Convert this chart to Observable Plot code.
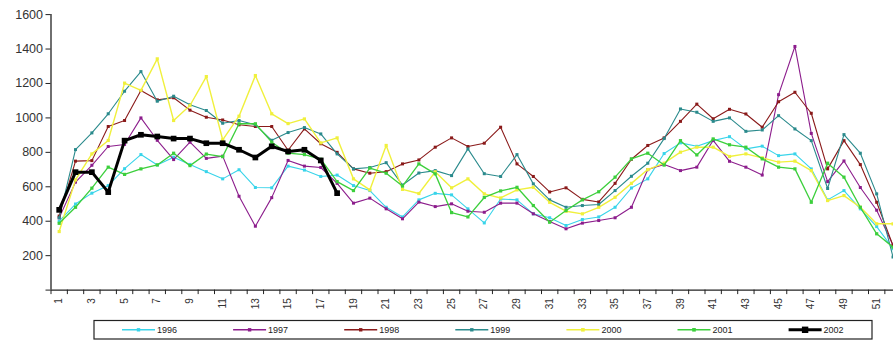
<!DOCTYPE html>
<html>
<head>
<meta charset="utf-8">
<script src="https://cdn.jsdelivr.net/npm/d3@7"></script>
<script src="https://cdn.jsdelivr.net/npm/@observablehq/plot@0.6"></script>
<style>
  html, body { margin: 0; padding: 0; background: #fff; overflow: hidden; }
  #chart svg { display: block; }
</style>
</head>
<body>
<div id="chart"></div>
<script>
// Weekly counts, one list per year (weeks 1–52; 2002 runs to week 18)
const weeks = d3.range(1, 53);
const years = ["1996", "1997", "1998", "1999", "2000", "2001", "2002"];

const v1996 = [400, 500, 563, 607, 705, 787, 727, 772, 730, 688,
  646, 699, 596, 594, 720, 697, 660, 668, 607, 578,
  481, 425, 524, 562, 553, 472, 390, 529, 524, 443,
  420, 375, 410, 425, 481, 593, 646, 793, 855, 835,
  868, 891, 820, 836, 781, 791, 704, 524, 578, 472,
  369, 240];
const v1997 = [420, 627, 725, 834, 846, 1000, 870, 758, 859, 765,
  778, 545, 371, 537, 753, 720, 712, 620, 505, 534,
  472, 414, 511, 485, 501, 458, 452, 505, 505, 443,
  398, 356, 389, 404, 420, 481, 700, 730, 694, 714,
  870, 748, 714, 668, 1135, 1415, 910, 630, 750, 596,
  464, 260];
const v1998 = [430, 749, 752, 950, 985, 1159, 1105, 1117, 1045, 1004,
  988, 960, 950, 950, 812, 936, 850, 800, 704, 679,
  688, 733, 756, 830, 884, 834, 853, 946, 733, 660,
  570, 594, 527, 512, 620, 760, 840, 884, 980, 1080,
  995, 1050, 1023, 946, 1094, 1149, 1027, 704, 868, 729,
  510, 259];
const v1999 = [420, 816, 913, 1024, 1155, 1269, 1097, 1126, 1076, 1043,
  969, 985, 960, 870, 915, 944, 907, 791, 704, 712,
  740, 610, 680, 694, 665, 820, 676, 660, 787, 617,
  524, 481, 491, 497, 578, 661, 737, 880, 1052, 1033,
  980, 1000, 922, 930, 1013, 936, 868, 590, 903, 795,
  559, 192];
const v2000 = [340, 640, 791, 869, 1202, 1160, 1343, 985, 1072, 1240,
  873, 1010, 1246, 1024, 967, 994, 855, 884, 646, 582,
  840, 585, 561, 687, 594, 646, 559, 535, 582, 597,
  510, 458, 443, 481, 539, 620, 700, 737, 801, 830,
  830, 776, 791, 768, 743, 749, 694, 520, 549, 481,
  385, 385];
const v2001 = [388, 481, 592, 714, 672, 704, 727, 795, 723, 790,
  775, 966, 966, 859, 795, 787, 760, 630, 578, 709,
  679, 604, 733, 675, 450, 425, 538, 576, 597, 491,
  394, 462, 524, 571, 656, 762, 795, 726, 868, 785,
  878, 844, 830, 762, 714, 704, 510, 737, 656, 481,
  327, 249];
const v2002 = [466, 685, 685, 569, 868, 902, 892, 880, 880, 853,
  853, 815, 770, 835, 805, 815, 753, 563];

const yTickValues = [0, 200, 400, 600, 800, 1000, 1200, 1400, 1600];
const yTickLabels = ["200", "400", "600", "800", "1000", "1200", "1400", "1600"];
const xTickLabels = d3.range(1, 52, 2);

// Long table built from the per-year lists
const valuesByYear = [v1996, v1997, v1998, v1999, v2000, v2001, v2002];
const rows = years.flatMap((year, i) =>
  valuesByYear[i].map((v, j) => ({year, week: weeks[j], value: v})));

// Series styling
const style = {
  "1996": {color: "#38d4ea", width: 1.1, r: 1.7},
  "1997": {color: "#8c1d8c", width: 1.1, r: 1.7},
  "1998": {color: "#8a1a1a", width: 1.1, r: 1.7},
  "1999": {color: "#2a8a8c", width: 1.1, r: 1.7},
  "2000": {color: "#f0f03c", width: 1.4, r: 1.8},
  "2001": {color: "#3ccf3c", width: 1.3, r: 1.8},
  "2002": {color: "#000000", width: 3.0, r: 3.2}
};

// Plot frame geometry
const W = 893, H = 316;
const X_LEFT = 50.5, STEP = 16.35;
const Y_BOTTOM = 289.6, Y_TOP = 14.1, Y_MAX = 1600;
const pxPerUnitY = (Y_BOTTOM - Y_TOP) / Y_MAX;
const tickY = 4.5 / pxPerUnitY;   // x-axis tick length in value units
const tickX = 5 / STEP;           // y-axis tick length in week units
const boundaries = d3.range(0.5, 53, 1);

const seriesMarks = years.flatMap(year => {
  const data = rows.filter(d => d.year === year);
  const s = style[year];
  return [
    Plot.line(data, {x: "week", y: "value", stroke: s.color, strokeWidth: s.width, strokeLinejoin: "round"}),
    Plot.dot(data, {x: "week", y: "value", symbol: "square", r: s.r, fill: s.color, stroke: "none"})
  ];
});

const chart = Plot.plot({
  width: W,
  height: H,
  style: {fontFamily: "'Liberation Sans', Arial, sans-serif", background: "#fff", overflow: "hidden"},
  x: {type: "linear", domain: [0.5, 52.5], range: [X_LEFT, X_LEFT + 52 * STEP], axis: null},
  y: {type: "linear", domain: [0, Y_MAX], range: [Y_BOTTOM, Y_TOP], axis: null},
  marks: [
    ...seriesMarks,
    // axis lines
    Plot.ruleX([0.5], {y1: 0, y2: Y_MAX, stroke: "#222", strokeWidth: 1.3}),
    Plot.ruleY([0], {x1: 0.5, x2: 52.5, stroke: "#222", strokeWidth: 1.3}),
    // y ticks and labels
    Plot.ruleY(yTickValues, {y: d => d, x1: 0.5 - tickX, x2: 0.5, stroke: "#222", strokeWidth: 1}),
    Plot.text(yTickLabels, {x: 0.5, y: d => +d, text: d => d, textAnchor: "end", dx: -8, fontSize: 12.5, fill: "#333"}),
    // x ticks between weeks, labels on odd weeks
    Plot.ruleX(boundaries, {x: d => d, y1: 0, y2: -tickY, stroke: "#222", strokeWidth: 1}),
    Plot.text(xTickLabels, {x: d => d, y: 0, text: d => String(d), rotate: -90, textAnchor: "end", dy: 8, fontSize: 10, fill: "#333"})
  ]
});
document.getElementById("chart").appendChild(chart);

// Legend strip below the plot
const legendH = 25;
const legend = d3.select("#chart").append("svg")
  .attr("width", W).attr("height", legendH)
  .style("display", "block")
  .style("font-family", "'Liberation Sans', Arial, sans-serif");
legend.append("rect")
  .attr("x", 94).attr("y", 4.5).attr("width", 778).attr("height", 18.5)
  .attr("fill", "#fff").attr("stroke", "#222").attr("stroke-width", 1.2);
const item = legend.selectAll("g.item").data(years).join("g")
  .attr("class", "item")
  .attr("transform", (d, i) => `translate(${122 + i * 111.1},${13.8})`);
item.append("line")
  .attr("x1", 0).attr("x2", 33).attr("y1", 0).attr("y2", 0)
  .attr("stroke", d => style[d].color)
  .attr("stroke-width", d => d === "2002" ? 3 : 1.4);
item.append("rect")
  .attr("x", d => 16.5 - style[d].r).attr("y", d => -style[d].r)
  .attr("width", d => style[d].r * 2).attr("height", d => style[d].r * 2)
  .attr("fill", d => style[d].color);
item.append("text")
  .attr("x", 35).attr("y", 3.2)
  .attr("font-size", 9).attr("fill", "#222")
  .text(d => d);
</script>
</body>
</html>
